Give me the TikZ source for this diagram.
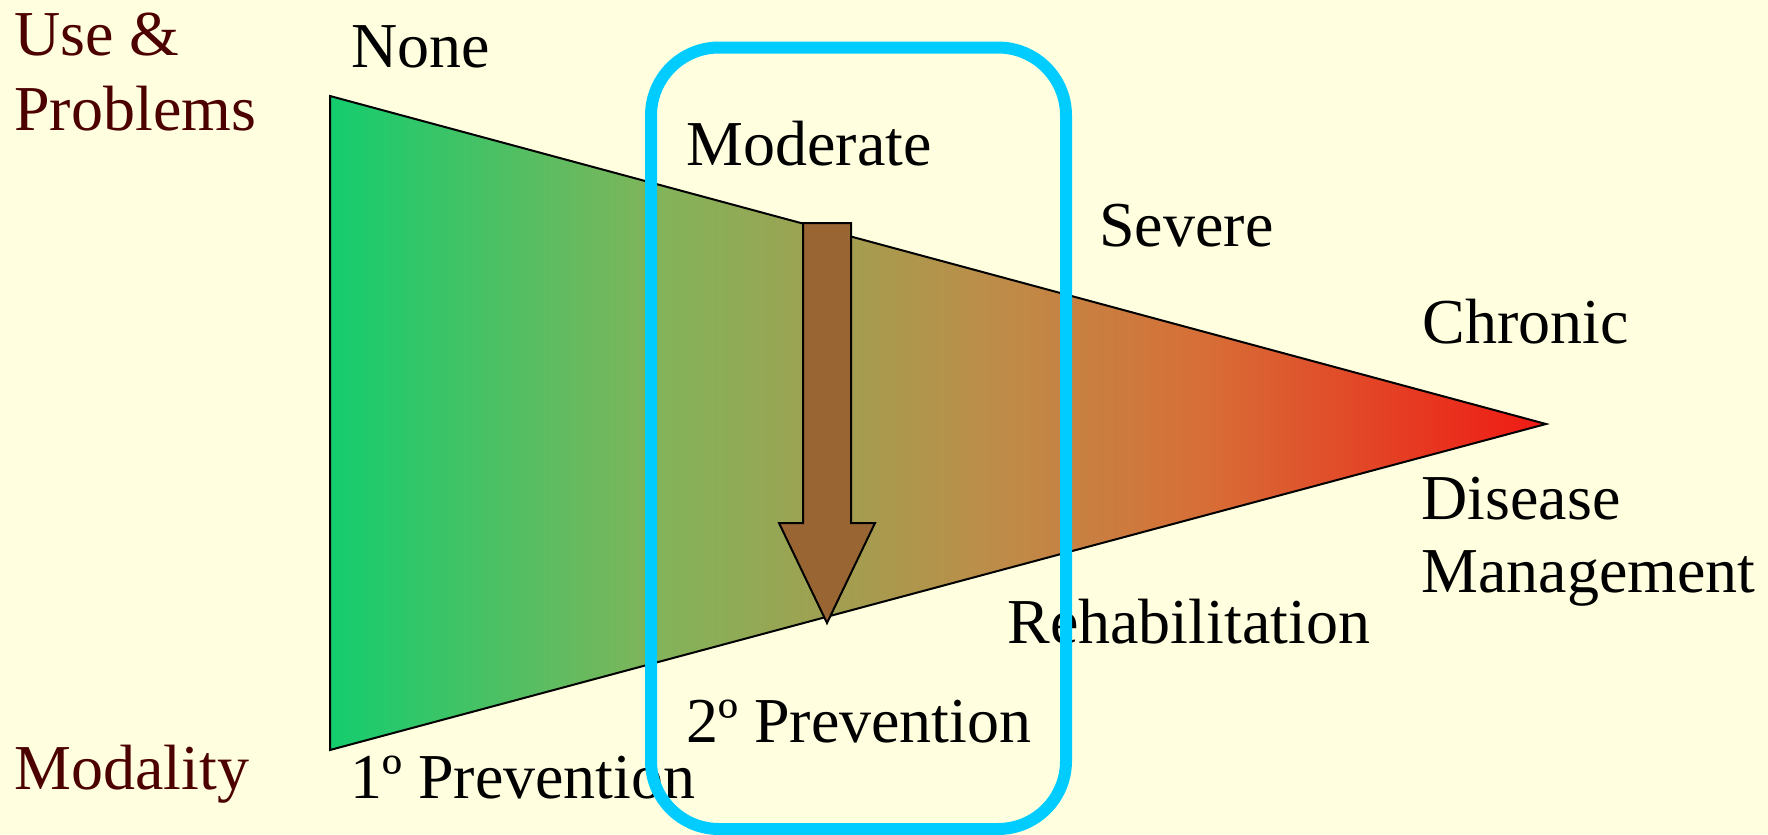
\documentclass[tikz,border=0pt]{standalone}
\usepackage{fontspec}
\setmainfont{Liberation Serif}
\usepackage{tikz}
\usepackage{xcolor}

\definecolor{slidebg}{RGB}{255,255,224}
\definecolor{maroontxt}{RGB}{77,0,0}
\definecolor{boxblue}{RGB}{0,204,255}
\definecolor{arrowbrown}{RGB}{153,102,51}
\definecolor{gradA}{RGB}{20,205,110}
\definecolor{gradB}{RGB}{130,180,90}
\definecolor{gradC}{RGB}{190,140,72}
\definecolor{gradD}{RGB}{215,110,55}
\definecolor{gradE}{RGB}{240,25,20}

\pgfdeclarehorizontalshading{conegrad}{100bp}{color(0bp)=(gradA); color(25bp)=(gradA); color(38.5bp)=(gradB); color(52.5bp)=(gradC); color(61bp)=(gradD); color(75bp)=(gradE); color(100bp)=(gradE)}

\tikzset{
  lbl/.style={anchor=base west, inner sep=0pt, font=\fontsize{32}{38}\selectfont},
  axislbl/.style={lbl, text=maroontxt}
}

\begin{document}
\begin{tikzpicture}[x=0.5pt,y=0.5pt,yscale=-1,xscale=1]
%set diagram to the slide size
\fill [slidebg] (0,0) rectangle (1768,835);
\useasboundingbox (0,0) rectangle (1768,835);

%Shape: Triangle [cone]
\draw [line width=1pt, shading=conegrad]  (330,96) -- (1546,424) -- (330,750) -- cycle ;
%Shape: Down Arrow
\draw [line width=1pt, fill=arrowbrown]  (803,223) -- (851,223) -- (851,523) -- (875,523) -- (827,623) -- (779,523) -- (803,523) -- cycle ;

% Text Node
\node (use) [axislbl] at (14,55) {Use \&};
% Text Node
\node (problems) [axislbl] at (14,130) {Problems};
% Text Node
\node (modality) [axislbl] at (14,789) {Modality};
% Text Node
\node (none) [lbl] at (351,68) {None};
% Text Node
\node (moderate) [lbl] at (686,165) {Moderate};
% Text Node
\node (severe) [lbl] at (1099,246) {Severe};
% Text Node
\node (chronic) [lbl] at (1422,343) {Chronic};
% Text Node
\node (disease) [lbl] at (1421,519) {Disease};
% Text Node
\node (management) [lbl] at (1421,592) {Management};
% Text Node
\node (rehab) [lbl] at (1007,643) {Rehabilitation};
% Text Node
\node (prevtwo) [lbl] at (686,742) {2º Prevention};
% Text Node
\node (prevone) [lbl] at (350,798) {1º Prevention};

%Shape: Rounded Rect [focus box]
\draw [boxblue, line width=6pt, rounded corners=34pt]  (651,47.5) rectangle (1066,829) ;

\end{tikzpicture}
\end{document}
